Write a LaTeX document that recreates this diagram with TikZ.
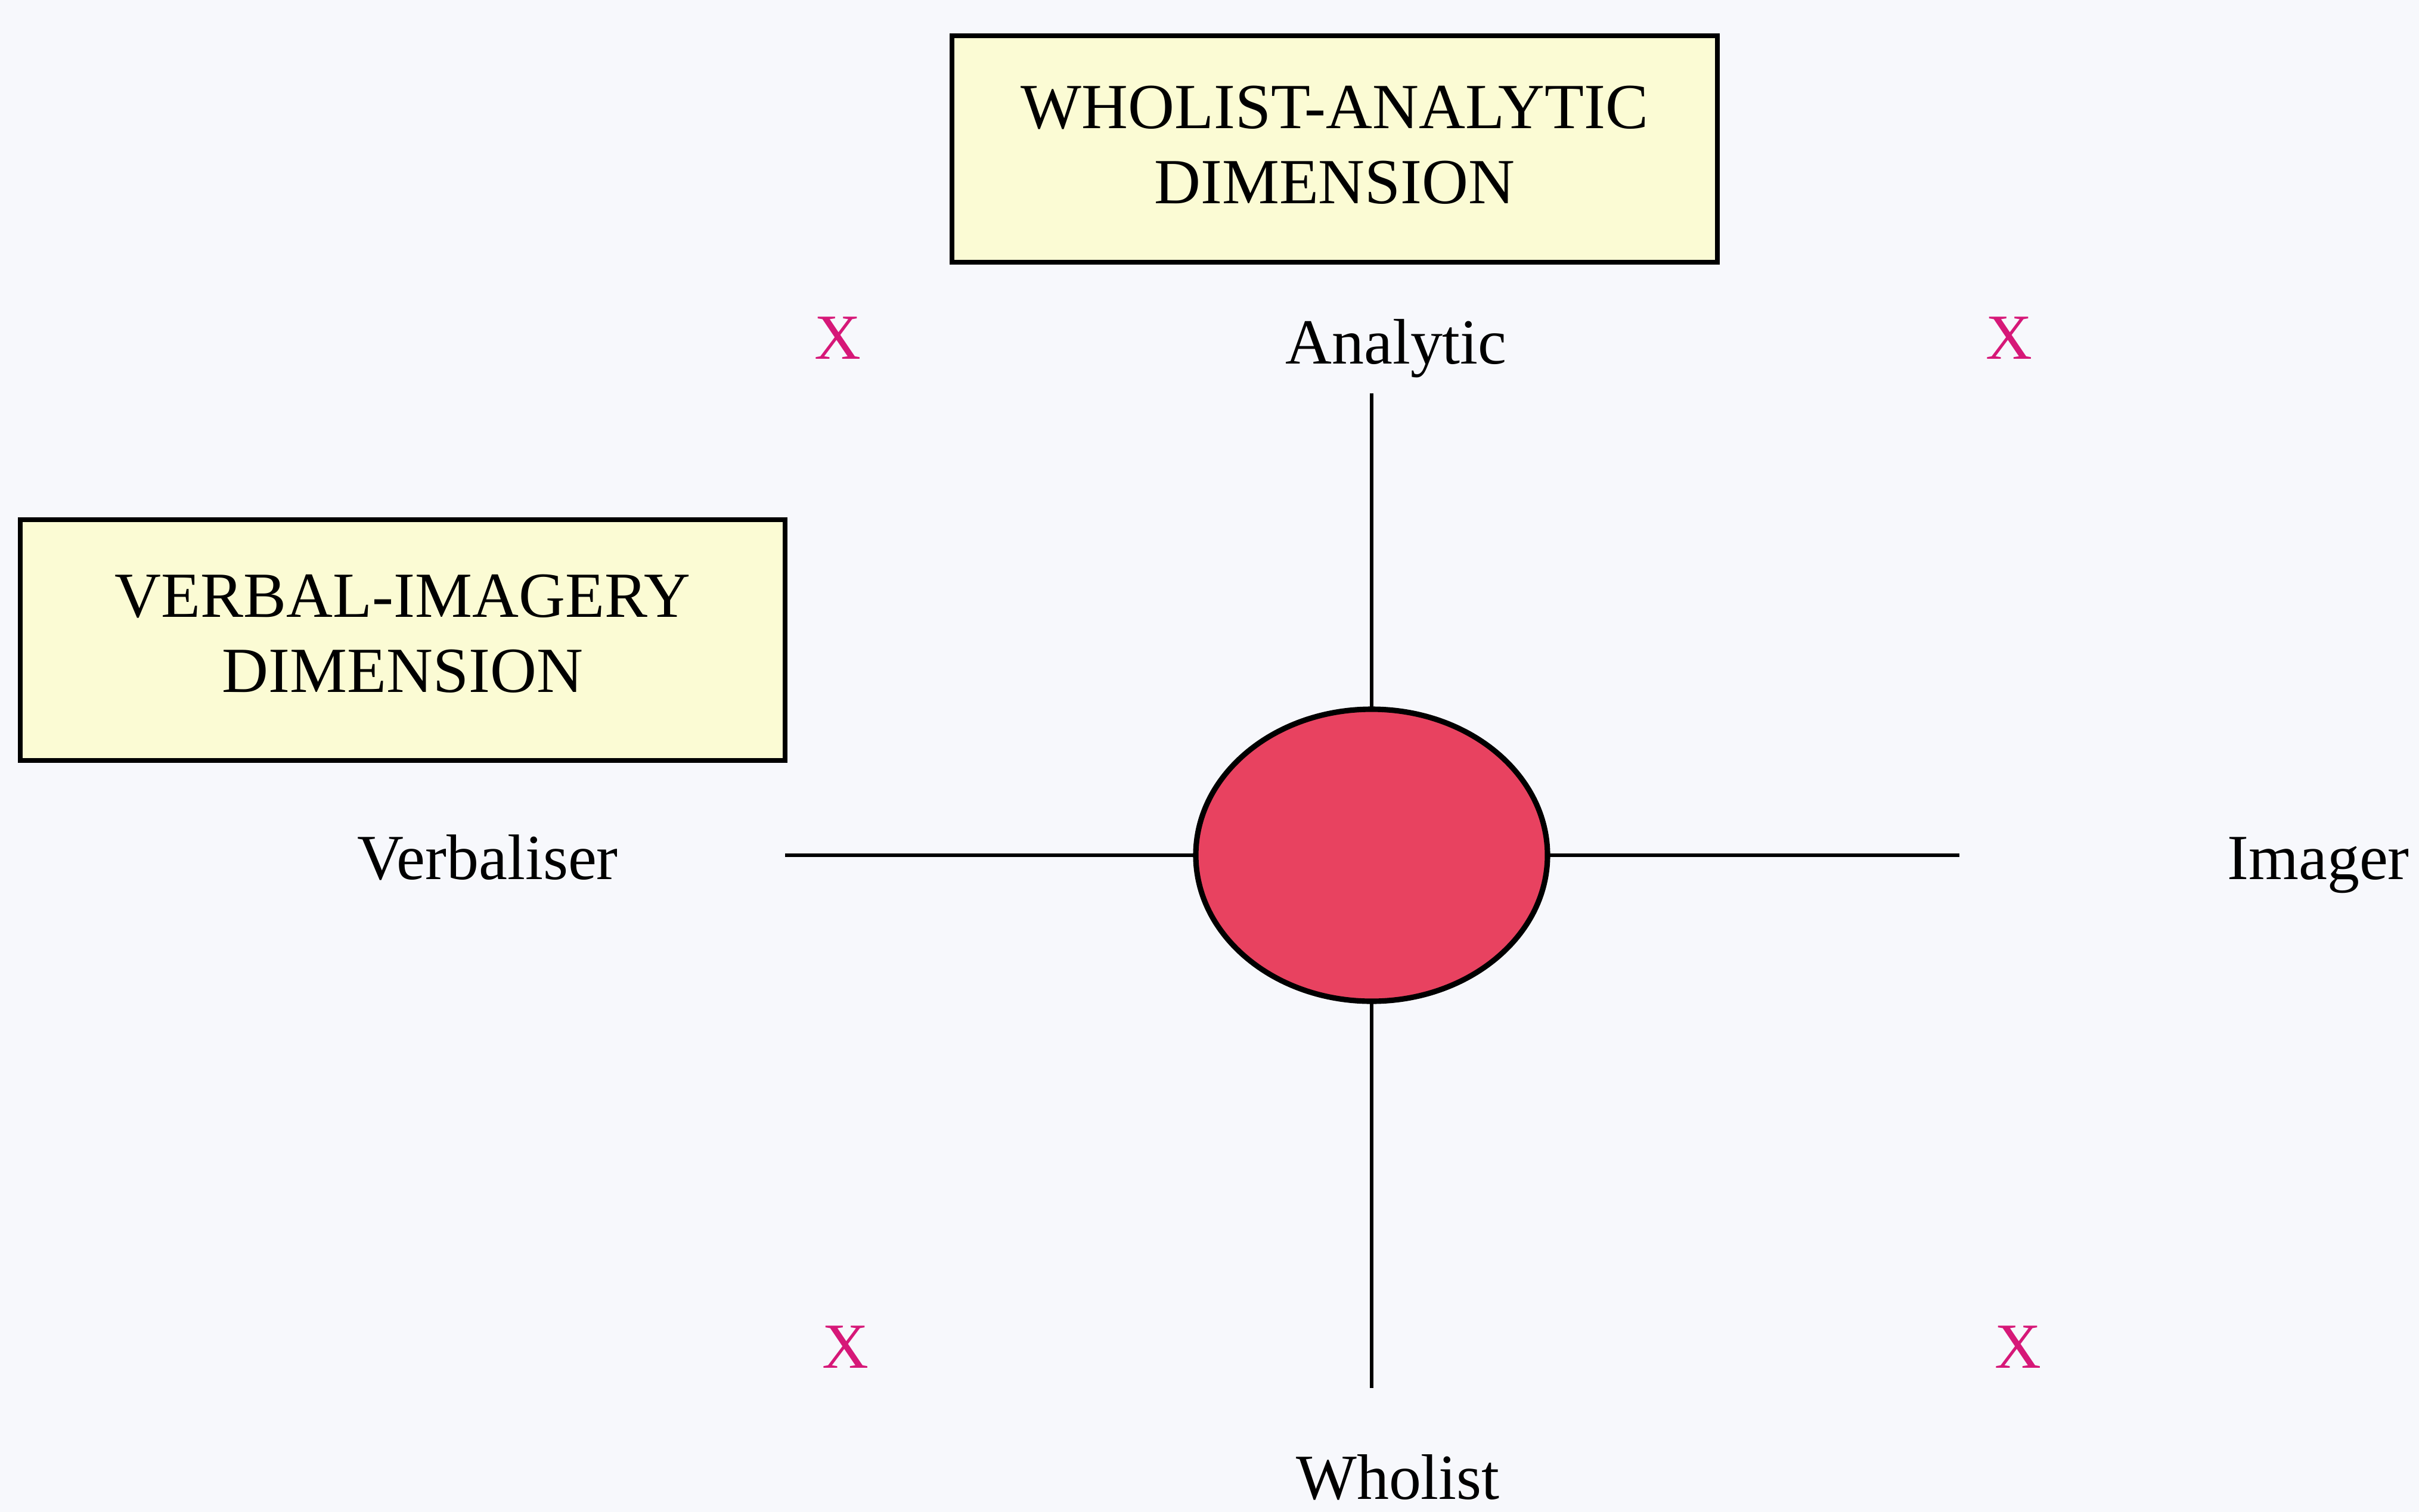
\documentclass[tikz,border=0pt]{standalone}
\usepackage{fontspec}
\setmainfont{Liberation Serif}
\usetikzlibrary{shapes.geometric}

\definecolor{pagebg}{RGB}{247,248,252}
\definecolor{boxfill}{RGB}{251,251,212}
\definecolor{dotfill}{RGB}{232,66,96}
\definecolor{markpink}{RGB}{214,24,120}

\tikzset{
  dimbox/.style={draw=black, line width=2.4pt, fill=boxfill, rectangle,
    align=center, inner sep=0pt, outer sep=0pt},
  axislabel/.style={anchor=base, inner sep=0pt},
  xmark/.style={anchor=base, inner sep=0pt, text=markpink},
  axis/.style={line width=1.8pt, black},
  hub/.style={ellipse, draw=black, line width=2.6pt, fill=dotfill,
    minimum width=5.9cm, minimum height=4.9cm, inner sep=0pt, outer sep=0pt}
}

\begin{document}
\begin{tikzpicture}[font=\fontsize{30.7}{35.8}\selectfont]
  % page area
  \fill[pagebg] (0,0) rectangle (40.58,-25.37);
  \useasboundingbox (0,0) rectangle (40.58,-25.37);

  % dimension boxes (text sits a little above the box centre)
  \node[dimbox, minimum width=12.84cm, minimum height=3.80cm] (wa)
    at (22.39,-2.50) {\raisebox{0.15cm}{\vbox{\halign{\hfil#\hfil\cr
      WHOLIST-ANALYTIC\cr DIMENSION\cr}}}};
  \node[dimbox, minimum width=12.83cm, minimum height=4.04cm] (vi)
    at (6.755,-10.74) {\raisebox{0.22cm}{\vbox{\halign{\hfil#\hfil\cr
      VERBAL-IMAGERY\cr DIMENSION\cr}}}};

  % centre disc
  \node[hub] (c) at (23.01,-14.35) {};

  % free ends of the axes
  \coordinate (topend)   at (23.01,-6.60);
  \coordinate (botend)   at (23.01,-23.29);
  \coordinate (leftend)  at (13.17,-14.35);
  \coordinate (rightend) at (32.87,-14.35);

  \draw[axis] (topend) -- (c.north);
  \draw[axis] (c.south) -- (botend);
  \draw[axis] (leftend) -- (c.west);
  \draw[axis] (c.east) -- (rightend);

  % pole labels
  \node[axislabel] (analytic) at (23.42,-6.10) {Analytic};
  \node[axislabel] (wholist)  at (23.45,-25.15) {Wholist};
  \node[axislabel] (verbal)   at (8.18,-14.75) {Verbaliser};
  \node[axislabel] (imager)   at (38.89,-14.75) {Imager};

  % quadrant markers
  \node[xmark] (xtl) at (14.05,-6.02) {X};
  \node[xmark] (xtr) at (33.70,-6.02) {X};
  \node[xmark] (xbl) at (14.18,-22.95) {X};
  \node[xmark] (xbr) at (33.85,-22.95) {X};
\end{tikzpicture}
\end{document}
